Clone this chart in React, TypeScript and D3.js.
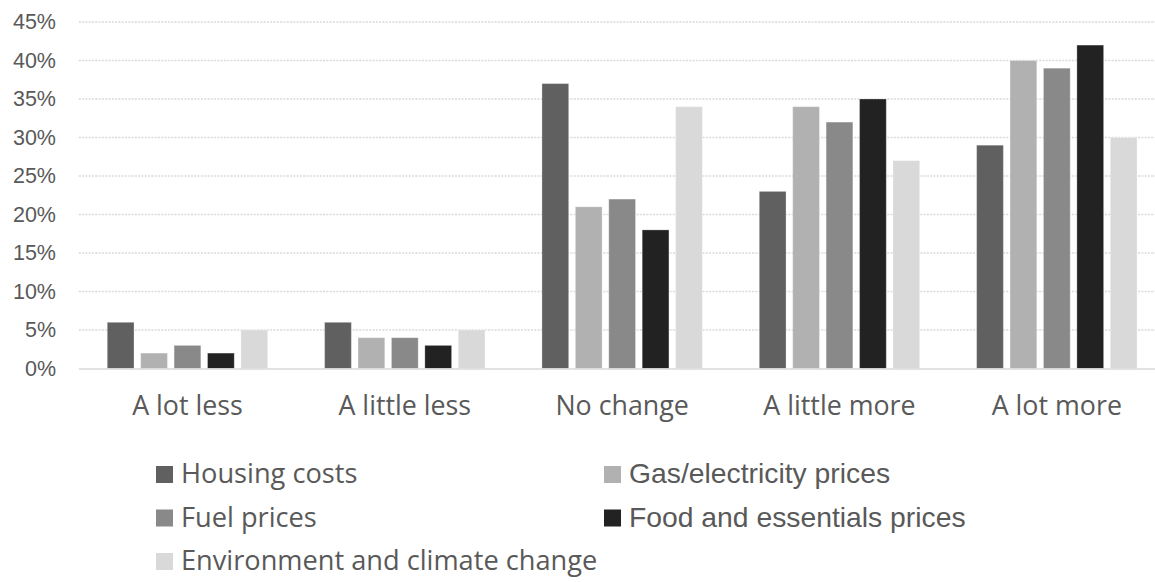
import React from "react";
import * as d3 from "d3";

// Categories along the x axis
const categories: string[] = ["A lot less", "A little less", "No change", "A little more", "A lot more"];

// Series names (legend order)
const seriesNames: string[] = [
  "Housing costs",
  "Gas/electricity prices",
  "Fuel prices",
  "Food and essentials prices",
  "Environment and climate change",
];

// Percent values per series, one entry per category
const housingCosts: number[] = [6, 6, 37, 23, 29];
const gasElectricity: number[] = [2, 4, 21, 34, 40];
const fuelPrices: number[] = [3, 4, 22, 32, 39];
const foodEssentials: number[] = [2, 3, 18, 35, 42];
const environmentClimate: number[] = [5, 5, 34, 27, 30];

const seriesValues: number[][] = [housingCosts, gasElectricity, fuelPrices, foodEssentials, environmentClimate];
const seriesColors: string[] = ["#606060", "#b1b1b1", "#898989", "#222222", "#d9d9d9"];

// Y axis ticks (percent)
const yTicks: number[] = [0, 5, 10, 15, 20, 25, 30, 35, 40, 45];

const W = 1155;
const H = 582;

export default function App() {
  const plotLeft = 78.8;
  const plotRight = 1165.5;
  const yZero = 368.5;
  const yTop = 22;

  const y = d3.scaleLinear().domain([0, 45]).range([yZero, yTop]);
  const x0 = d3.scaleBand<string>().domain(categories).range([plotLeft, plotRight]).padding(0);
  const groupWidth = 160.4;
  const groupOffset = (x0.bandwidth() - groupWidth) / 2;
  const x1 = d3
    .scaleBand<string>()
    .domain(seriesNames)
    .range([0, groupWidth])
    .paddingInner(0.2)
    .paddingOuter(0);

  const textColor = "#595959";
  const legendCols = [156, 604];
  const legendRows = [483, 526.5, 570];

  return (
    <svg
      width={W}
      height={H}
      style={{ position: "fixed", left: 0, top: 0, background: "#ffffff" }}
      xmlns="http://www.w3.org/2000/svg"
    >
      <rect x={0} y={0} width={W} height={H} fill="#ffffff" />
      {/* gridlines */}
      {yTicks
        .filter((t) => t > 0)
        .map((t) => (
          <line
            key={"g" + t}
            x1={plotLeft}
            x2={plotRight}
            y1={y(t)}
            y2={y(t)}
            stroke="#d9d9d9"
            strokeWidth={1.3}
            strokeDasharray="2 1.3"
          />
        ))}
      {/* y tick labels */}
      {yTicks.map((t) => (
        <text
          key={"yl" + t}
          x={56}
          y={y(t)}
          textAnchor="end"
          dominantBaseline="central"
          fontFamily="'Liberation Sans', Arial, sans-serif"
          fontSize={21.5}
          fill={textColor}
        >
          {t + "%"}
        </text>
      ))}
      {/* bars */}
      {categories.map((c, ci) => (
        <g key={c} transform={`translate(${(x0(c) as number) + groupOffset},0)`}>
          {seriesNames.map((s, si) => {
            const v = seriesValues[si][ci];
            return (
              <rect
                key={s}
                x={x1(s) as number}
                y={y(v)}
                width={x1.bandwidth()}
                height={yZero - y(v)}
                fill={seriesColors[si]}
                stroke="rgba(255,255,255,0.28)"
                strokeWidth={1}
              />
            );
          })}
        </g>
      ))}
      {/* zero axis line */}
      <line x1={plotLeft} x2={plotRight} y1={yZero + 0.5} y2={yZero + 0.5} stroke="#d9d9d9" strokeWidth={1.6} />
      {/* category labels */}
      {categories.map((c) => (
        <text
          key={"xl" + c}
          x={(x0(c) as number) + x0.bandwidth() / 2}
          y={415}
          textAnchor="middle"
          fontFamily="'Open Sans', sans-serif"
          fontSize={26.8}
          fill={textColor}
        >
          {c}
        </text>
      ))}
      {/* legend */}
      {seriesNames.map((s, i) => {
        const col = i % 2;
        const row = Math.floor(i / 2);
        const lx = legendCols[col];
        const ly = legendRows[row];
        const arial = col === 1;
        return (
          <g key={"lg" + s}>
            <rect x={lx} y={ly - 17} width={17} height={17} fill={seriesColors[i]} />
            <text
              x={lx + 25}
              y={ly}
              fontFamily={arial ? "'Liberation Sans', Arial, sans-serif" : "'Open Sans', sans-serif"}
              fontSize={arial ? 28.3 : 27.2}
              fill={textColor}
            >
              {s}
            </text>
          </g>
        );
      })}
    </svg>
  );
}
